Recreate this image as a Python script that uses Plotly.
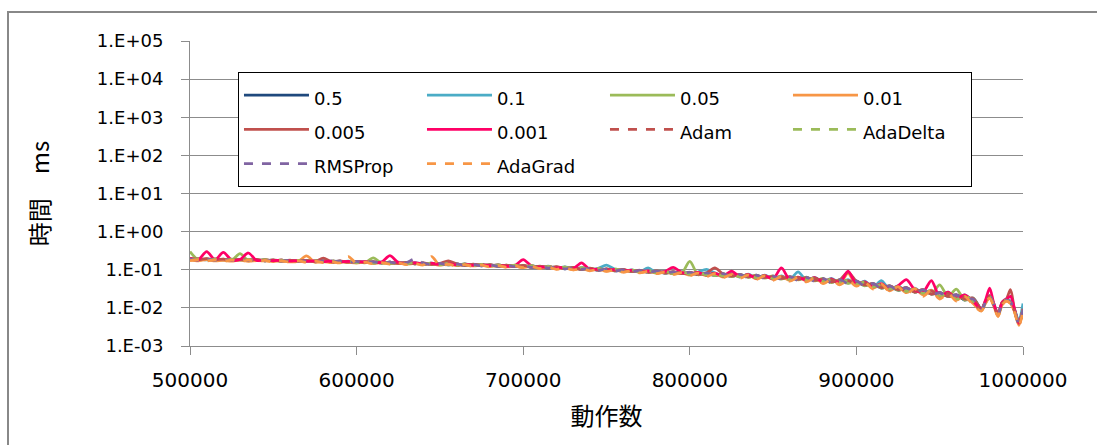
import plotly.graph_objects as go

# x positions (動作数): every 5000 up to 970000, then finer at the end
X = list(range(500000, 975000, 5000)) + [975000, 977500, 980000, 982500, 985000,
                                          987500, 990000, 992500, 995000, 997500, 1000000]

S_05 = [0.193,0.183,0.190,0.181,0.188,0.178,0.185,0.175,0.182,0.172,
        0.180,0.169,0.177,0.166,0.175,0.163,0.171,0.161,0.169,0.157,
        0.166,0.154,0.162,0.150,0.158,0.146,0.154,0.142,0.150,0.138,
        0.146,0.134,0.142,0.130,0.139,0.127,0.134,0.123,0.131,0.120,
        0.129,0.116,0.123,0.111,0.118,0.106,0.113,0.102,0.108,0.097,
        0.104,0.093,0.100,0.089,0.096,0.086,0.091,0.082,0.087,0.079,
        0.084,0.075,0.080,0.071,0.076,0.068,0.073,0.065,0.069,0.062,
        0.066,0.059,0.063,0.056,0.061,0.053,0.056,0.048,0.053,0.045,
        0.049,0.039,0.042,0.033,0.037,0.029,0.033,0.026,0.029,0.023,
        0.025,0.020,0.022,0.016,0.018,
        0.0095,0.014,0.019,0.012,0.0068,0.013,0.016,0.014,0.0085,0.004,0.0095]

S_01 = [0.185,0.194,0.182,0.191,0.180,0.188,0.177,0.185,0.174,0.182,
        0.171,0.179,0.168,0.176,0.165,0.173,0.162,0.171,0.160,0.168,
        0.156,0.165,0.153,0.161,0.149,0.158,0.145,0.154,0.141,0.150,
        0.137,0.146,0.133,0.142,0.130,0.139,0.126,0.135,0.123,0.131,
        0.119,0.128,0.114,0.124,0.109,0.119,0.105,0.114,0.100,0.109,
        0.132,0.103,0.092,0.099,0.088,0.112,0.084,0.092,0.080,0.089,
        0.075,0.087,0.102,0.083,0.067,0.080,0.064,0.077,0.061,0.072,
        0.058,0.069,0.055,0.088,0.053,0.063,0.048,0.059,0.045,0.055,
        0.041,0.050,0.035,0.052,0.030,0.038,0.027,0.033,0.024,0.029,
        0.020,0.026,0.017,0.022,0.015,
        0.009,0.015,0.021,0.013,0.007,0.014,0.017,0.015,0.009,0.0045,0.013]

S_005 = [0.300,0.182,0.194,0.178,0.190,0.176,0.265,0.173,0.184,0.171,
         0.180,0.167,0.177,0.164,0.174,0.162,0.170,0.159,0.168,0.157,
         0.165,0.152,0.205,0.150,0.158,0.146,0.154,0.142,0.150,0.139,
         0.146,0.135,0.142,0.131,0.139,0.128,0.135,0.124,0.132,0.121,
         0.128,0.117,0.123,0.112,0.118,0.108,0.113,0.103,0.108,0.099,
         0.104,0.095,0.100,0.091,0.096,0.087,0.092,0.083,0.088,0.080,
         0.165,0.074,0.083,0.070,0.079,0.066,0.076,0.063,0.072,0.060,
         0.069,0.057,0.066,0.054,0.064,0.051,0.059,0.046,0.055,0.044,
         0.051,0.038,0.044,0.033,0.038,0.029,0.034,0.026,0.030,0.023,
         0.040,0.020,0.031,0.016,0.018,
         0.0088,0.014,0.020,0.012,0.0066,0.013,0.016,0.014,0.0082,0.0039,0.0092]

S_001 = [0.180,0.172,0.183,0.170,0.176,0.168,0.179,0.166,0.174,0.170,
         0.163,0.172,0.160,0.168,0.230,0.158,0.164,0.154,0.160,0.156,
         0.150,0.158,0.146,0.154,0.143,0.150,0.138,0.146,0.136,0.142,
         0.132,0.140,0.128,0.136,0.126,0.131,0.121,0.128,0.119,0.124,
         0.114,0.122,0.110,0.117,0.105,0.112,0.100,0.108,0.097,0.103,
         0.092,0.099,0.089,0.095,0.085,0.091,0.081,0.088,0.078,0.084,
         0.072,0.084,0.070,0.080,0.064,0.076,0.066,0.074,0.058,0.069,
         0.056,0.066,0.052,0.063,0.051,0.060,0.045,0.055,0.043,0.080,
         0.039,0.047,0.033,0.041,0.028,0.036,0.025,0.032,0.022,0.029,
         0.018,0.025,0.016,0.021,0.013,
         0.0085,0.013,0.019,0.011,0.006,0.012,0.015,0.013,0.0078,0.0035,0.0085]

S_0005 = [0.200,0.184,0.195,0.181,0.191,0.179,0.188,0.176,0.186,0.173,
          0.182,0.170,0.179,0.167,0.176,0.164,0.202,0.161,0.170,0.158,
          0.167,0.155,0.163,0.151,0.159,0.147,0.155,0.143,0.151,0.139,
          0.147,0.172,0.143,0.131,0.140,0.128,0.136,0.124,0.133,0.121,
          0.130,0.117,0.125,0.112,0.120,0.107,0.115,0.103,0.110,0.098,
          0.106,0.094,0.102,0.090,0.097,0.086,0.093,0.082,0.089,0.079,
          0.085,0.076,0.082,0.112,0.078,0.068,0.074,0.065,0.070,0.062,
          0.067,0.059,0.065,0.056,0.062,0.053,0.057,0.048,0.054,0.087,
          0.050,0.040,0.043,0.034,0.038,0.030,0.034,0.026,0.030,0.023,
          0.025,0.020,0.022,0.017,0.018,
          0.0092,0.015,0.021,0.012,0.0068,0.014,0.017,0.030,0.0085,0.004,0.0095]

S_0001 = [0.195,0.184,0.300,0.183,0.285,0.180,0.186,0.275,0.176,0.181,
          0.172,0.178,0.168,0.175,0.166,0.172,0.163,0.169,0.160,0.167,
          0.157,0.164,0.153,0.160,0.235,0.155,0.146,0.153,0.142,0.149,
          0.138,0.145,0.134,0.140,0.131,0.136,0.127,0.133,0.123,0.130,
          0.185,0.126,0.116,0.121,0.111,0.116,0.106,0.152,0.101,0.106,
          0.097,0.102,0.093,0.098,0.089,0.094,0.086,0.090,0.115,0.086,
          0.078,0.085,0.072,0.082,0.068,0.092,0.066,0.075,0.060,0.070,
          0.058,0.112,0.055,0.064,0.053,0.062,0.048,0.058,0.045,0.092,
          0.042,0.048,0.035,0.043,0.031,0.038,0.055,0.030,0.026,0.052,
          0.020,0.026,0.018,0.022,0.015,
          0.0092,0.016,0.033,0.013,0.0068,0.014,0.017,0.020,0.009,0.004,0.009]

ADAM = [0.184,0.195,0.181,0.192,0.179,0.189,0.176,0.186,0.174,0.183,
        0.171,0.180,0.168,0.177,0.165,0.174,0.162,0.171,0.159,0.168,
        0.156,0.165,0.152,0.161,0.148,0.157,0.144,0.153,0.140,0.149,
        0.136,0.145,0.132,0.141,0.130,0.138,0.126,0.134,0.123,0.131,
        0.120,0.127,0.114,0.122,0.110,0.117,0.105,0.113,0.101,0.108,
        0.096,0.104,0.092,0.099,0.088,0.095,0.084,0.091,0.080,0.088,
        0.077,0.084,0.073,0.080,0.069,0.076,0.066,0.073,0.062,0.070,
        0.059,0.066,0.057,0.063,0.055,0.060,0.050,0.055,0.047,0.052,
        0.043,0.046,0.036,0.040,0.032,0.035,0.028,0.031,0.025,0.028,
        0.021,0.024,0.018,0.020,0.014,
        0.0088,0.014,0.020,0.012,0.0064,0.013,0.016,0.014,0.008,0.0037,0.0088]

ADADELTA = [0.180,0.192,0.178,0.190,0.176,0.188,0.174,0.186,0.171,0.183,
            0.168,0.180,0.165,0.177,0.162,0.174,0.159,0.171,0.157,0.169,
            0.154,0.165,0.150,0.162,0.146,0.158,0.142,0.154,0.138,0.150,
            0.134,0.146,0.130,0.142,0.128,0.139,0.124,0.135,0.121,0.132,
            0.118,0.128,0.113,0.123,0.108,0.118,0.103,0.114,0.099,0.109,
            0.095,0.105,0.091,0.100,0.087,0.096,0.083,0.092,0.079,0.089,
            0.076,0.085,0.072,0.081,0.068,0.077,0.065,0.074,0.061,0.071,
            0.058,0.067,0.055,0.064,0.054,0.061,0.049,0.056,0.046,0.053,
            0.042,0.047,0.035,0.041,0.031,0.036,0.027,0.032,0.024,0.029,
            0.020,0.025,0.017,0.021,0.015,
            0.0087,0.014,0.020,0.012,0.0065,0.013,0.016,0.014,0.0081,0.0038,0.0091]

RMSPROP = [0.190,0.180,0.191,0.178,0.188,0.176,0.185,0.174,0.183,0.171,
           0.180,0.168,0.177,0.165,0.174,0.162,0.171,0.159,0.168,0.157,
           0.165,0.153,0.162,0.149,0.158,0.146,0.153,0.192,0.149,0.138,
           0.146,0.134,0.142,0.130,0.138,0.127,0.135,0.123,0.131,0.120,
           0.128,0.116,0.123,0.111,0.118,0.106,0.113,0.102,0.108,0.097,
           0.104,0.093,0.100,0.089,0.096,0.086,0.092,0.082,0.088,0.079,
           0.086,0.073,0.083,0.069,0.079,0.065,0.076,0.062,0.072,0.059,
           0.068,0.056,0.066,0.053,0.063,0.050,0.059,0.045,0.055,0.043,
           0.051,0.037,0.044,0.032,0.038,0.028,0.034,0.025,0.030,0.022,
           0.025,0.019,0.022,0.016,0.017,
           0.009,0.014,0.020,0.012,0.0066,0.013,0.016,0.014,0.0083,0.0038,0.009]

ADAGRAD = [0.172,0.184,0.170,0.182,0.168,0.180,0.166,0.178,0.164,0.175,
           0.161,0.172,0.158,0.170,0.156,0.168,0.153,0.165,0.151,0.222,
           0.147,0.158,0.143,0.154,0.140,0.151,0.136,0.147,0.133,0.222,
           0.129,0.140,0.125,0.136,0.122,0.132,0.119,0.129,0.116,0.126,
           0.113,0.122,0.108,0.117,0.103,0.112,0.099,0.108,0.094,0.103,
           0.090,0.099,0.086,0.095,0.083,0.091,0.079,0.087,0.075,0.084,
           0.070,0.082,0.066,0.079,0.063,0.075,0.060,0.072,0.056,0.069,
           0.053,0.066,0.050,0.063,0.048,0.060,0.043,0.056,0.040,0.053,
           0.037,0.047,0.031,0.042,0.027,0.036,0.023,0.032,0.020,0.029,
           0.017,0.024,0.015,0.020,0.012,
           0.0082,0.013,0.018,0.011,0.006,0.012,0.015,0.013,0.0075,0.0034,0.0082]

SERIES_NAMES = ["0.5", "0.1", "0.05", "0.01", "0.005", "0.001",
                "Adam", "AdaDelta", "RMSProp", "AdaGrad"]
SERIES_VALUES = [S_05, S_01, S_005, S_001, S_0005, S_0001,
                 ADAM, ADADELTA, RMSPROP, ADAGRAD]
SERIES_COLORS = ["#1F497D", "#4BACC6", "#9BBB59", "#F79646", "#C0504D", "#FF0066",
                 "#C0504D", "#9BBB59", "#8064A2", "#F79646"]
SERIES_DASH = ["solid"] * 6 + ["dash"] * 4

Y_TICKS = [1e-3, 1e-2, 1e-1, 1e0, 1e1, 1e2, 1e3, 1e4, 1e5]
Y_TICK_TEXT = ["1.E-03", "1.E-02", "1.E-01", "1.E+00", "1.E+01",
               "1.E+02", "1.E+03", "1.E+04", "1.E+05"]
X_TICKS = [500000, 600000, 700000, 800000, 900000, 1000000]

LATIN = "DejaVu Sans"
CJK = "Noto Sans CJK JP"
GRID = "#8C8C8C"

fig = go.Figure()
for name, vals, col, dash in zip(SERIES_NAMES, SERIES_VALUES, SERIES_COLORS, SERIES_DASH):
    fig.add_trace(go.Scatter(
        x=X, y=vals, mode="lines",
        name='<span style="font-size:18px">' + name + '</span>',
        line=dict(color=col, width=2.75, dash=dash, shape="spline", smoothing=0.8),
    ))

fig.update_layout(
    width=1097, height=445,
    margin=dict(l=190, r=74, t=41, b=99),
    paper_bgcolor="white", plot_bgcolor="white",
    font=dict(family=LATIN, size=18, color="#000000"),
    showlegend=True,
    legend=dict(
        orientation="h", x=0.0576, y=0.898, xanchor="left", yanchor="top",
        bordercolor="#000000", borderwidth=1, bgcolor="white",
        font=dict(family=LATIN, size=24), itemwidth=65,
        entrywidth=103, entrywidthmode="pixels",
        traceorder="normal",
    ),
    xaxis=dict(
        range=[500000, 1000000], tickvals=X_TICKS, ticktext=[str(v) for v in X_TICKS],
        showgrid=False, zeroline=False, showline=True, linecolor=GRID, linewidth=1,
        ticks="outside", ticklen=8, tickcolor=GRID, ticklabelstandoff=8,
        tickfont=dict(family=LATIN, size=20),
        title=dict(text="動作数", font=dict(family=CJK, size=24), standoff=17),
    ),
    yaxis=dict(
        type="log", range=[-3, 5], tickvals=Y_TICKS, ticktext=Y_TICK_TEXT,
        showgrid=True, gridcolor=GRID, gridwidth=1, zeroline=False,
        showline=True, linecolor=GRID, linewidth=1,
        ticks="outside", ticklen=8, tickcolor=GRID, ticklabelstandoff=14,
        tickfont=dict(family=LATIN, size=18),
        title=dict(text="時間　ms", font=dict(family=CJK, size=24), standoff=40),
    ),
    shapes=[dict(type="rect", xref="paper", yref="paper",
                 x0=(8 - 190) / 833, x1=(1110 - 190) / 833,
                 y0=(346 - 460) / 305, y1=(346 - 12) / 305,
                 line=dict(color="#888888", width=2), fillcolor="rgba(0,0,0,0)",
                 layer="below")],
)

fig.write_html("out.html")
